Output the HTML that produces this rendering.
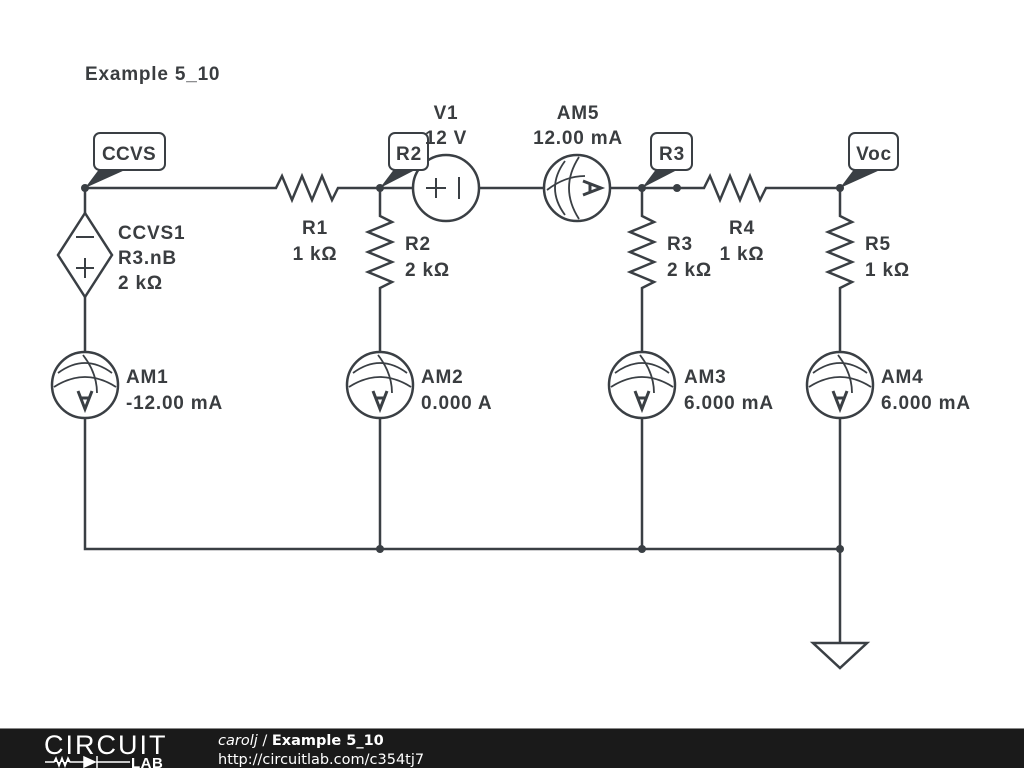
<!DOCTYPE html>
<html><head><meta charset="utf-8"><style>
html,body{margin:0;padding:0;background:#fff;width:1024px;height:768px;overflow:hidden}
svg{display:block}
text{font-family:"Liberation Sans",sans-serif;font-weight:bold;font-size:19px;letter-spacing:0.8px;fill:#3a3d40}
.c{text-anchor:middle}
</style></head><body>
<svg width="1024" height="768" viewBox="0 0 1024 768">
<defs>
<g id="am">
<circle cx="0" cy="0" r="33" fill="#fff" stroke="#3a3f44" stroke-width="2.5"/>
<path d="M-27,-12 Q0,-32 27,-12" fill="none" stroke="#3a3f44" stroke-width="1.8"/>
<path d="M-31,2 Q0,-18 31,2" fill="none" stroke="#3a3f44" stroke-width="1.8"/>
<path d="M-2,-30 Q12,-12 12,8" fill="none" stroke="#3a3f44" stroke-width="1.8"/>
<path d="M-7,6 L0,24 L7,6 M-4.5,13 L4.5,13" fill="none" stroke="#3a3f44" stroke-width="3"/>
</g>
</defs>
<g stroke="#3a3f44" stroke-width="2.5" fill="none">
<path d="M85,188 H276 l6,-12 l10,24 l10,-24 l10,24 l10,-24 l10,24 l6,-12 H413 M479,188 H544 M610,188 H704 l6,-12 l10,24 l10,-24 l10,24 l10,-24 l10,24 l6,-12 H840"/>
<path d="M85,188 V213 M85,297 V352 M85,418 V549 H840"/>
<path d="M85,213 L112,255 L85,297 L58,255 Z"/>
<path d="M76,237 H94 M85,258 V278 M76,268 H94" stroke-width="2"/>
<path d="M380,188 V216 l12,6 l-24,10 l24,10 l-24,10 l24,10 l-24,10 l24,10 l-12,6 V352 M380,418 V549"/>
<path d="M642,188 V216 l12,6 l-24,10 l24,10 l-24,10 l24,10 l-24,10 l24,10 l-12,6 V352 M642,418 V549"/>
<path d="M840,188 V216 l12,6 l-24,10 l24,10 l-24,10 l24,10 l-24,10 l24,10 l-12,6 V352 M840,418 V643"/>
<path d="M813,643 H867 L840,668 Z"/>
<circle cx="446" cy="188" r="33" fill="#fff"/>
<path d="M426,188 H446 M436,178 V198 M459,177 V199" stroke-width="2"/>
</g>
<use href="#am" x="577" y="188" transform="rotate(-90 577 188)"/>
<use href="#am" x="85" y="385"/>
<use href="#am" x="380" y="385"/>
<use href="#am" x="642" y="385"/>
<use href="#am" x="840" y="385"/>
<g fill="#3a3f44">
<circle cx="85" cy="188" r="4"/><circle cx="380" cy="188" r="4"/><circle cx="642" cy="188" r="4"/><circle cx="677" cy="188" r="4"/><circle cx="840" cy="188" r="4"/>
<circle cx="380" cy="549" r="4"/><circle cx="642" cy="549" r="4"/><circle cx="840" cy="549" r="4"/>
<path d="M85,188 L100,168 L125,170 Z"/>
<path d="M380,188 L395,168 L415,170 Z"/>
<path d="M642,188 L657,168 L677,170 Z"/>
<path d="M840,188 L855,168 L880,170 Z"/>
</g>
<g fill="#fff" stroke="#3a3f44" stroke-width="2">
<rect x="94" y="133" width="71" height="37" rx="6"/>
<rect x="389" y="133" width="39" height="37" rx="6"/>
<rect x="651" y="133" width="41" height="37" rx="6"/>
<rect x="849" y="133" width="49" height="37" rx="6"/>
</g>
<text x="129" y="160" class="c" style="letter-spacing:0.3px">CCVS</text>
<text x="409" y="160" class="c">R2</text>
<text x="672" y="160" class="c">R3</text>
<text x="874" y="160" class="c">Voc</text>
<text x="85" y="80">Example 5_10</text>
<text x="446" y="119" class="c">V1</text>
<text x="446" y="144" class="c">12 V</text>
<text x="578" y="119" class="c">AM5</text>
<text x="578" y="144" class="c">12.00 mA</text>
<text x="118" y="239">CCVS1</text>
<text x="118" y="264">R3.nB</text>
<text x="118" y="289">2 kΩ</text>
<text x="315" y="234" class="c">R1</text>
<text x="315" y="260" class="c">1 kΩ</text>
<text x="405" y="250">R2</text>
<text x="405" y="276">2 kΩ</text>
<text x="667" y="250">R3</text>
<text x="667" y="276">2 kΩ</text>
<text x="742" y="234" class="c">R4</text>
<text x="742" y="260" class="c">1 kΩ</text>
<text x="865" y="250">R5</text>
<text x="865" y="276">1 kΩ</text>
<text x="126" y="383">AM1</text><text x="126" y="409">-12.00 mA</text>
<text x="421" y="383">AM2</text><text x="421" y="409">0.000 A</text>
<text x="684" y="383">AM3</text><text x="684" y="409">6.000 mA</text>
<text x="881" y="383">AM4</text><text x="881" y="409">6.000 mA</text>
<rect x="0" y="729" width="1024" height="39" fill="#1a1a1a"/>
<rect x="0" y="728" width="1024" height="1" fill="#888"/>
<text x="44" y="754" style="font-weight:normal;font-size:27px;fill:#fff;letter-spacing:2px">CIRCUIT</text>
<path d="M45,762 H54 l2,-4 l3,8 l3,-8 l3,8 l3,-8 l2,4 H84 M84,757 V767 L95,762 Z M97,756 V768 M97,762 H130" stroke="#fff" stroke-width="1.5" fill="#fff"/>
<text x="131" y="768" style="font-size:15px;letter-spacing:0.5px;fill:#fff">LAB</text>
<text x="218" y="745" style="font-family:'DejaVu Sans',sans-serif;font-size:14.5px;letter-spacing:0;fill:#fff"><tspan style="font-style:italic;font-weight:normal">carolj</tspan><tspan style="font-weight:normal"> / </tspan>Example 5_10</text>
<text x="218" y="764" style="font-family:'DejaVu Sans',sans-serif;font-size:14.5px;letter-spacing:0;font-weight:normal;fill:#fff">http://circuitlab.com/c354tj7</text>
</svg>
</body></html>
